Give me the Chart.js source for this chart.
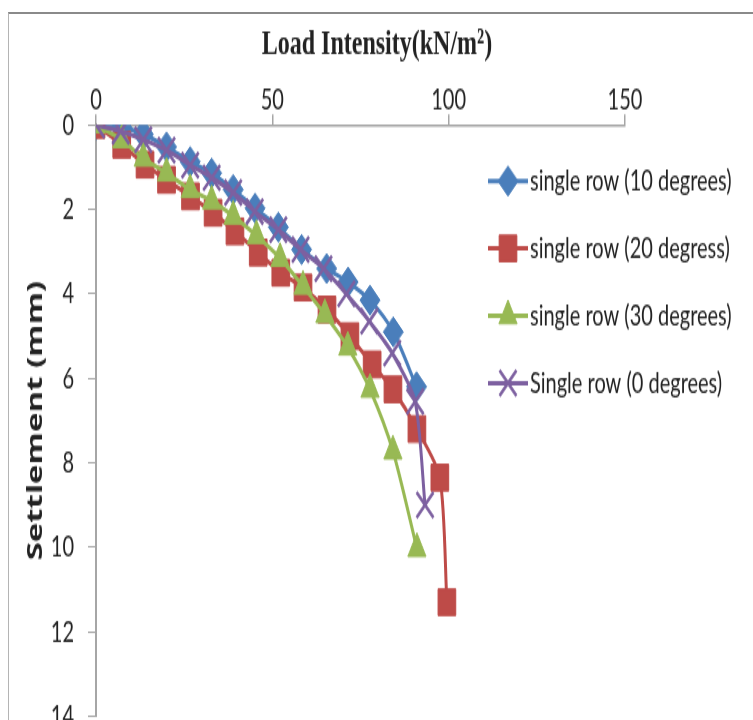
<!DOCTYPE html>
<html>
<head>
<meta charset="utf-8">
<script src="https://cdn.jsdelivr.net/npm/chart.js@4.4.0/dist/chart.umd.min.js"></script>
<style>
  html, body { margin: 0; padding: 0; background: #fff; overflow: hidden; }
  #wrap { position: relative; width: 753px; height: 720px; overflow: hidden; }
  #frame { position: absolute; left: 8px; top: 12px; width: 760px; height: 720px;
           border-top: 2px solid #8a8a8a; border-left: 1px solid #b4b4b4; }
  #mycanvas { position: absolute; left: 0; top: 0; transform: scaleY(1.5); transform-origin: 0 0; }
</style>
</head>
<body>
<div id="wrap">
  <div id="frame"></div>
  <canvas id="mycanvas" width="753" height="492"></canvas>
</div>
<script>
// load intensity (kN/m2) and settlement (mm)
var load10 = [0, 7.3, 13.4, 20, 26.7, 32.8, 38.9, 45.1, 51.7, 58.3, 65.4, 71.5, 77.7, 84.3, 90.9];
var settle10 = [0, 0.05, 0.22, 0.52, 0.87, 1.14, 1.53, 1.97, 2.42, 2.95, 3.4, 3.72, 4.15, 4.9, 6.2];

var load20 = [0, 7.3, 13.9, 20, 26.8, 33.2, 39.4, 46, 52.4, 58.7, 65.5, 72, 78.3, 84.2, 91, 97.5, 99.5];
var settle20 = [0, 0.47, 0.94, 1.3, 1.69, 2.08, 2.52, 3.02, 3.5, 3.85, 4.37, 5.0, 5.67, 6.26, 7.2, 8.35, 11.3];

var load30 = [0, 7.3, 13.4, 20, 26.7, 32.8, 38.9, 45.5, 52.2, 58.7, 64.9, 71.4, 77.7, 84.2, 91];
var settle30 = [0, 0.35, 0.79, 1.14, 1.53, 1.8, 2.16, 2.62, 3.16, 3.82, 4.49, 5.26, 6.26, 7.72, 10.03];

var load0 = [0, 7, 13.4, 20, 26.7, 32.8, 38.9, 45, 51.7, 58, 64.5, 71, 77.5, 84, 90.5, 93.3];
var settle0 = [0, 0.15, 0.35, 0.6, 0.95, 1.25, 1.6, 2.05, 2.48, 2.95, 3.4, 4.0, 4.65, 5.4, 6.55, 9.0];

var seriesNames = ["single row (10 degrees)", "single row (20 degress)", "single row (30 degrees)", "Single row (0 degrees)"];
var xTicks = [0, 50, 100, 150];
var yTicks = [0, 2, 4, 6, 8, 10, 12, 14];

function toPoints(xs, ys) {
  var pts = [];
  for (var i = 0; i < xs.length; i++) {
    pts.push({ x: xs[i], y: ys[i] });
  }
  return pts;
}

var textColor = '#222222';
var axisColor = '#a6a6a6';

// the legend sits inside the plot, with a line through each marker
var sideLegend = {
  id: 'sideLegend',
  afterDraw: function (chart) {
    var ctx = chart.ctx;
    ctx.save();
    // x axis title
    ctx.font = 'bold 24px "Liberation Serif"';
    ctx.fillStyle = textColor;
    ctx.textAlign = 'center';
    ctx.textBaseline = 'middle';
    ctx.fillText('Load Intensity(kN/m\u00B2)', 377, 30);

    chart.data.datasets.forEach(function (ds, i) {
      var y = 120.7 + i * 44.9;
      ctx.strokeStyle = ds.borderColor;
      ctx.lineWidth = ds.borderWidth;
      ctx.beginPath();
      ctx.moveTo(488, y);
      ctx.lineTo(528, y);
      ctx.stroke();
      ctx.fillStyle = ds.pointBackgroundColor;
      ctx.strokeStyle = ds.pointBorderColor;
      ctx.lineWidth = ds.pointBorderWidth;
      Chart.helpers.drawPoint(ctx, {
        pointStyle: ds.pointStyle, radius: ds.pointRadius,
        borderWidth: ds.pointBorderWidth, rotation: 0
      }, 508, y);
      ctx.fillStyle = textColor;
      ctx.font = '20px Lato';
      ctx.textAlign = 'left';
      ctx.fillText(seriesNames[i], 530, y);
    });
    ctx.restore();
  }
};

function makeSet(i, xs, ys, color, style, radius, bw, order) {
  return {
    label: seriesNames[i],
    data: toPoints(xs, ys),
    showLine: true,
    borderColor: color,
    borderWidth: 3,
    tension: 0.25,
    pointStyle: style,
    pointRadius: radius,
    pointBackgroundColor: color,
    pointBorderColor: color,
    pointBorderWidth: bw,
    order: order
  };
}

var chartData = {
  datasets: [
    makeSet(0, load10, settle10, '#4a7ebb', 'rectRot', 10, 1, 4),
    makeSet(1, load20, settle20, '#be4b48', 'rect', 12.5, 1, 3),
    makeSet(2, load30, settle30, '#98b954', 'triangle', 10.5, 1, 2),
    makeSet(3, load0, settle0, '#7d60a0', 'crossRot', 12, 2.5, 1)
  ]
};

var ctx = document.getElementById('mycanvas');
var settleChart = new Chart(ctx, {
  type: 'scatter',
  data: chartData,
  plugins: [sideLegend],
  options: {
    responsive: false,
    animation: false,
    devicePixelRatio: 1,
    layout: { padding: { top: 0, left: 0, right: 128, bottom: 0 } },
    plugins: {
      legend: { display: false },
      tooltip: { enabled: false }
    },
    scales: {
      x: {
        type: 'linear',
        position: 'top',
        min: 0,
        max: 150,
        afterBuildTicks: function (axis) {
          axis.ticks = xTicks.map(function (v) { return { value: v }; });
        },
        ticks: { color: textColor, padding: -2, font: { family: 'Lato', size: 20 } },
        grid: { drawOnChartArea: false, tickLength: 7, color: axisColor, lineWidth: 1.5 },
        border: { color: axisColor, width: 1.5 },
        afterFit: function (s) { s.height = 83.3; s.paddingLeft = 0; s.paddingRight = 0; }
      },
      y: {
        type: 'linear',
        reverse: true,
        min: 0,
        max: 14,
        afterBuildTicks: function (axis) {
          axis.ticks = yTicks.map(function (v) { return { value: v }; });
        },
        ticks: { color: textColor, padding: 14, font: { family: 'Lato', size: 20 } },
        grid: { drawOnChartArea: false, tickLength: 8, color: axisColor, lineWidth: 1 },
        border: { color: axisColor, width: 2 },
        title: {
          display: true,
          text: 'Settlement (mm)',
          color: textColor,
          font: { family: 'Open Sans', size: 22, weight: 'bold' },
          padding: { top: 23, bottom: 0 }
        },
        afterFit: function (s) { s.width = 96; s.paddingTop = 0; s.paddingBottom = 0; }
      }
    }
  }
});
</script>
</body>
</html>
